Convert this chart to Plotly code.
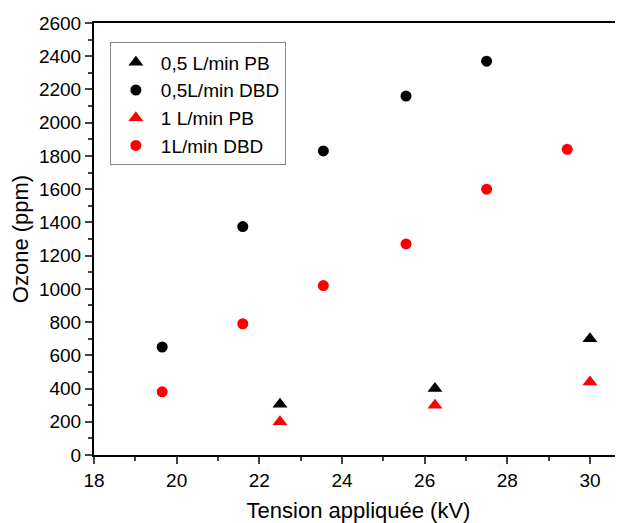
import plotly.graph_objects as go

tri_x = [22.5, 26.25, 30.0]
pb05 = [305, 400, 700]
pb1 = [200, 300, 440]

dbd05_x = [19.65, 21.6, 23.55, 25.55, 27.5]
dbd05 = [650, 1375, 1830, 2160, 2370]

dbd1_x = [19.65, 21.6, 23.55, 25.55, 27.5, 29.45]
dbd1 = [380, 790, 1020, 1270, 1600, 1840]

x_ticks = [18, 20, 22, 24, 26, 28, 30]
y_ticks = list(range(0, 2601, 200))

FONT = "Liberation Sans, Arial, sans-serif"

fig = go.Figure()
fig.add_trace(go.Scatter(x=tri_x, y=pb05, mode="markers", name="0,5 L/min PB",
                         marker=dict(symbol="triangle-up", size=13, color="black")))
fig.add_trace(go.Scatter(x=dbd05_x, y=dbd05, mode="markers", name="0,5L/min DBD",
                         marker=dict(symbol="circle", size=11, color="black")))
fig.add_trace(go.Scatter(x=tri_x, y=pb1, mode="markers", name="1 L/min PB",
                         marker=dict(symbol="triangle-up", size=13, color="red")))
fig.add_trace(go.Scatter(x=dbd1_x, y=dbd1, mode="markers", name="1L/min DBD",
                         marker=dict(symbol="circle", size=11, color="red")))

fig.update_layout(
    width=615, height=515,
    margin=dict(l=86, r=0, t=15, b=68),
    paper_bgcolor="white", plot_bgcolor="white",
    font=dict(family=FONT, size=19, color="black"),
    showlegend=True,
    legend=dict(x=0.03, y=0.955, xanchor="left", yanchor="top",
                bordercolor="#888888", borderwidth=1, bgcolor="white",
                font=dict(family=FONT, size=19), tracegroupgap=0, itemwidth=40),
    xaxis=dict(range=[18, 30.8], tickvals=x_ticks, ticks="outside", ticklen=7, tickwidth=1.5,
               showline=True, linecolor="black", linewidth=2, mirror=True,
               showgrid=False, zeroline=False,
               minor=dict(dtick=1, ticks="outside", ticklen=4, tickwidth=1.5, showgrid=False),
               title=dict(text="Tension appliquée (kV)", font=dict(size=22), standoff=13),
               tickfont=dict(size=19)),
    yaxis=dict(range=[0, 2600], tickvals=y_ticks, ticks="outside", ticklen=7, tickwidth=1.5,
               showline=True, linecolor="black", linewidth=2, mirror=False,
               showgrid=False, zeroline=False,
               minor=dict(dtick=100, ticks="outside", ticklen=4, tickwidth=1.5, showgrid=False),
               title=dict(text="Ozone (ppm)", font=dict(size=22), standoff=6),
               tickfont=dict(size=19)),
)

fig.write_html("out.html")
